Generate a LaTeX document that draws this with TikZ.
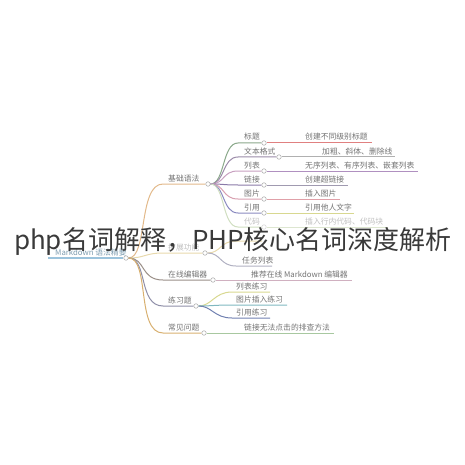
\documentclass[tikz,border=0pt]{standalone}
\usepackage{fontspec}
\newfontfamily\cjk{Noto Sans CJK SC}
\definecolor{cRoot}{HTML}{9CC3DC}
\definecolor{cB1}{HTML}{E2B98A}
\definecolor{cB2}{HTML}{E8D9AC}
\definecolor{cB3}{HTML}{9A8F88}
\definecolor{cB4}{HTML}{8F8FA8}
\definecolor{cB5}{HTML}{D8B070}
\definecolor{cK1}{HTML}{8AA88A}
\definecolor{cK2}{HTML}{9A8AA8}
\definecolor{cK3}{HTML}{C8A0C0}
\definecolor{cK4}{HTML}{8A7AA8}
\definecolor{cK5}{HTML}{D8A0B0}
\definecolor{cK6}{HTML}{8A8AC0}
\definecolor{cK7}{HTML}{D0DEC0}
\definecolor{cL1}{HTML}{E08080}
\definecolor{cL2}{HTML}{B0B0B0}
\definecolor{cL3}{HTML}{B090C0}
\definecolor{cL4}{HTML}{A09AB0}
\definecolor{cL5}{HTML}{E0A0A8}
\definecolor{cL6}{HTML}{D8D890}
\definecolor{cL7}{HTML}{DDE6D0}
\definecolor{cP1}{HTML}{D8D890}
\definecolor{cP2}{HTML}{80B8C0}
\definecolor{cP3}{HTML}{7080B0}
\definecolor{cE}{HTML}{D0B0C0}
\definecolor{cQ}{HTML}{A8C8A0}
\definecolor{cT}{HTML}{3A3A3A}
\begin{document}
\begin{tikzpicture}[x=1pt,y=-1pt,
  lbl/.style={font=\cjk\fontsize{7.8}{8}\selectfont, text=black!55, inner sep=0pt, anchor=base west},
  faint/.style={text=black!25},
  dot/.style={circle, draw=gray!60, fill=white, minimum size=4.5pt, inner sep=0pt, line width=0.6pt},
  ln/.style={line width=1pt}]
\useasboundingbox (0,0) rectangle (465,465);

% root
\coordinate (r0s) at (48,258);
\node[dot] (r0) at (126,258) {};
\node[lbl, text=cRoot!80!black] (r0t) at (55,255.5) {Markdown 语法精要};
\draw[ln, cRoot, line width=1.3pt] (r0s) -- (r0);

% main branches
\coordinate (s1) at (163,184);
\coordinate (s2) at (163,253);
\coordinate (s3) at (163,280);
\coordinate (s4) at (163,306);
\coordinate (s5) at (163,333);
\node[dot] (b1) at (208,184) {};
\node[dot] (b2) at (205,253) {};
\node[dot] (b3) at (213,280) {};
\node[dot] (b4) at (196,306) {};
\node[dot] (b5) at (204,333) {};
\draw[ln, cB1] (r0.east) .. controls (148,258) and (138,184) .. (s1) -- (b1);
\draw[ln, cB2] (r0.east) .. controls (145,258) and (145,253) .. (s2) -- (b2);
\draw[ln, cB3] (r0.east) .. controls (146,258) and (140,280) .. (s3) -- (b3);
\draw[ln, cB4] (r0.east) .. controls (148,258) and (138,306) .. (s4) -- (b4);
\draw[ln, cB5] (r0.east) .. controls (150,258) and (136,333) .. (s5) -- (b5);
\node[lbl] (t1) at (168,181) {基础语法};
\node[lbl, faint] (t2) at (168,250) {扩展功能};
\node[lbl] (t3) at (168,277) {在线编辑器};
\node[lbl] (t4) at (168,303) {练习题};
\node[lbl] (t5) at (168,330) {常见问题};

% basic syntax children
\coordinate (ks1) at (238,143);
\coordinate (ks2) at (238,157);
\coordinate (ks3) at (238,171);
\coordinate (ks4) at (238,185);
\coordinate (ks5) at (238,199);
\coordinate (ks6) at (238,213);
\coordinate (ks7) at (238,227);
\node[dot] (k1) at (264,143) {};
\node[dot] (k2) at (279,157) {};
\node[dot] (k3) at (264,171) {};
\node[dot] (k4) at (264,185) {};
\node[dot] (k5) at (264,199) {};
\node[dot] (k6) at (264,213) {};
\node[dot, draw=gray!30] (k7) at (264,227) {};
\draw[ln, cK1] (b1.east) .. controls (225,184) and (222,143) .. (ks1) -- (k1);
\draw[ln, cK2] (b1.east) .. controls (225,184) and (222,157) .. (ks2) -- (k2);
\draw[ln, cK3] (b1.east) .. controls (225,184) and (222,171) .. (ks3) -- (k3);
\draw[ln, cK4] (b1.east) .. controls (225,184) and (222,185) .. (ks4) -- (k4);
\draw[ln, cK5] (b1.east) .. controls (225,184) and (222,199) .. (ks5) -- (k5);
\draw[ln, cK6] (b1.east) .. controls (225,184) and (222,213) .. (ks6) -- (k6);
\draw[ln, cK7] (b1.east) .. controls (225,184) and (222,227) .. (ks7) -- (k7);
\node[lbl] (kt1) at (244,140) {标题};
\node[lbl] (kt2) at (244,154) {文本格式};
\node[lbl] (kt3) at (244,168) {列表};
\node[lbl] (kt4) at (244,182) {链接};
\node[lbl] (kt5) at (244,196) {图片};
\node[lbl] (kt6) at (244,210) {引用};
\node[lbl, faint] (kt7) at (244,224) {代码};

% leaves of basic syntax
\coordinate (l1) at (372,143);
\coordinate (l2) at (395,157);
\coordinate (l3) at (418,171);
\coordinate (l4) at (348,185);
\coordinate (l5) at (340,199);
\coordinate (l6) at (354,213);
\coordinate (l7) at (388,227);
\draw[ln, cL1] (k1) -- (l1);
\draw[ln, cL2] (k2) -- (l2);
\draw[ln, cL3] (k3) -- (l3);
\draw[ln, cL4] (k4) -- (l4);
\draw[ln, cL5] (k5) -- (l5);
\draw[ln, cL6] (k6) -- (l6);
\draw[ln, cL7] (k7) -- (l7);
\node[lbl] (lt1) at (305,140) {创建不同级别标题};
\node[lbl] (lt2) at (322,154) {加粗、斜体、删除线};
\node[lbl] (lt3) at (305,168) {无序列表、有序列表、嵌套列表};
\node[lbl] (lt4) at (305,182) {创建超链接};
\node[lbl] (lt5) at (305,196) {插入图片};
\node[lbl] (lt6) at (305,210) {引用他人文字};
\node[lbl, faint] (lt7) at (305,224) {插入行内代码、代码块};

% extended features children
\coordinate (es1) at (236,241);
\coordinate (ee1) at (262,241);
\coordinate (es2) at (236,266);
\coordinate (ee2) at (272,266);
\draw[ln, cB2] (b2.east) .. controls (221,253) and (220,241) .. (es1) -- (ee1);
\draw[ln, cB4!70] (b2.east) .. controls (221,253) and (220,266) .. (es2) -- (ee2);
\node[lbl] (et2) at (242,263) {任务列表};

% online editor child
\coordinate (oe) at (352,280);
\draw[ln, cE] (b3) -- (oe);
\node[lbl] (ot) at (251,277) {推荐在线 Markdown 编辑器};

% practice children
\coordinate (ps1) at (232,292);
\coordinate (ps2) at (232,305);
\coordinate (ps3) at (232,318);
\coordinate (pe1) at (270,292);
\coordinate (pe2) at (287,305);
\coordinate (pe3) at (270,318);
\draw[ln, cP1] (b4.east) .. controls (212,306) and (214,292) .. (ps1) -- (pe1);
\draw[ln, cP2] (b4.east) .. controls (212,306) and (214,305) .. (ps2) -- (pe2);
\draw[ln, cP3] (b4.east) .. controls (212,306) and (214,318) .. (ps3) -- (pe3);
\node[lbl] (pt1) at (236,289) {列表练习};
\node[lbl] (pt2) at (236,302) {图片插入练习};
\node[lbl] (pt3) at (236,315) {引用练习};

% FAQ child
\coordinate (qe) at (334,333);
\draw[ln, cQ] (b5) -- (qe);
\node[lbl] (qt) at (244,330) {链接无法点击的排查方法};

% overlay title
\node[font=\cjk\fontsize{26}{30}\selectfont, text=cT, inner sep=0pt, anchor=base] (title) at (233,249) {php名词解释，PHP核心名词深度解析};
\end{tikzpicture}
\end{document}
